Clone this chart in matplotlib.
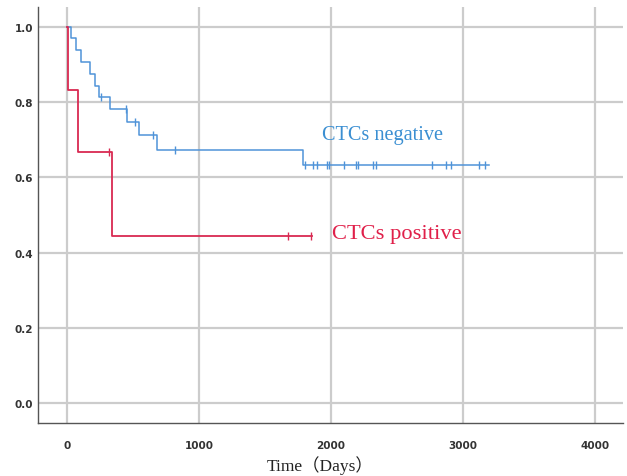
import matplotlib
matplotlib.use("Agg")
import matplotlib.pyplot as plt
import numpy as np

# Kaplan-Meier steps (days, survival)
neg_step_days = [0, 28, 66, 101, 174, 212, 242, 323, 452, 541, 677, 1788, 3195]
neg_step_surv = [1.0, 0.970, 0.939, 0.907, 0.876, 0.844, 0.813, 0.781, 0.747, 0.712, 0.674, 0.634, 0.634]
neg_censor_days = [258, 447, 510, 649, 813, 1806, 1861, 1896, 1972, 1987, 2098, 2187, 2202,
                   2318, 2343, 2767, 2872, 2907, 3119, 3170]

pos_step_days = [0, 5, 81, 341, 1856]
pos_step_surv = [1.0, 0.833, 0.667, 0.444, 0.444]
pos_censor_days = [318, 1677, 1848]

blue = "#4f93d8"
red = "#d92a52"

fig = plt.figure(figsize=(6.27, 4.77), dpi=100)
ax = fig.add_axes([0.061, 0.111, 0.932, 0.872])


def km_value(days, surv, t):
    idx = np.searchsorted(days, t, side="right") - 1
    return np.array(surv)[idx]


ax.step(neg_step_days, neg_step_surv, where="post", color=blue, lw=1.1, zorder=3)
ax.plot(neg_censor_days, km_value(neg_step_days, neg_step_surv, neg_censor_days),
        ls="none", marker="|", ms=5.5, mew=1.0, color=blue, zorder=4)

ax.step(pos_step_days, pos_step_surv, where="post", color=red, lw=1.3, zorder=3)
ax.plot(pos_censor_days, km_value(pos_step_days, pos_step_surv, pos_censor_days),
        ls="none", marker="|", ms=5.5, mew=1.0, color=red, zorder=4)

ax.text(1930, 0.715, "CTCs negative", color="#3b8fd2", fontsize=14.6,
        family="Liberation Serif", va="center", ha="left")
ax.text(2005, 0.45, "CTCs positive", color="#e0204a", fontsize=16.2,
        family="Liberation Serif", va="center", ha="left")

ax.set_xlim(-220, 4210)
ax.set_ylim(-0.053, 1.053)
ax.set_xticks([0, 1000, 2000, 3000, 4000])
ax.set_yticks([0.0, 0.2, 0.4, 0.6, 0.8, 1.0])
ax.set_yticklabels(["0.0", "0.2", "0.4", "0.6", "0.8", "1.0"])
ax.grid(True, color="#cccccc", lw=1.6, zorder=0)
ax.set_axisbelow(True)
ax.tick_params(length=0, labelsize=7.5, colors="#333333")
ax.tick_params(axis="x", pad=12)
ax.tick_params(axis="y", pad=3.5)
for lab in ax.get_xticklabels() + ax.get_yticklabels():
    lab.set_fontweight("semibold")
for side in ["top", "right"]:
    ax.spines[side].set_visible(False)
for side in ["left", "bottom"]:
    ax.spines[side].set_color("#555555")
    ax.spines[side].set_linewidth(1.0)

ax.set_xlabel("Time（Days）", fontsize=12.5, family=["Liberation Serif", "Noto Sans CJK SC"],
              color="#222222")
ax.xaxis.set_label_coords(0.483, -0.077)

fig.savefig("out.png", dpi=100)
